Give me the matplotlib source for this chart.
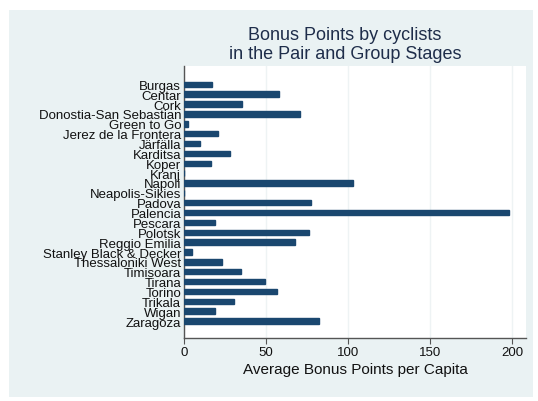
import matplotlib.pyplot as plt
from matplotlib.patches import Rectangle

cities = ['Burgas', 'Centar', 'Cork', 'Donostia-San Sebastian', 'Green to Go',
          'Jerez de la Frontera', 'Järfälla', 'Karditsa', 'Koper', 'Kranj',
          'Napoli', 'Neapolis-Sikies', 'Padova', 'Palencia', 'Pescara',
          'Polotsk', 'Reggio Emilia', 'Stanley Black & Decker',
          'Thessaloniki West', 'Timisoara', 'Tirana', 'Torino', 'Trikala',
          'Wigan', 'Zaragoza']
points = [17.2, 57.6, 35.5, 70.4, 2.2, 20.9, 9.7, 28.0, 16.6, 0.0,
          102.7, 0.0, 77.3, 197.8, 18.9, 75.9, 67.4, 5.1, 23.1, 34.9,
          49.5, 56.4, 30.2, 18.9, 82.4]
xticks = [0, 50, 100, 150, 200]

W, H = 538, 402
plt.rcParams['font.family'] = ['Liberation Sans', 'DejaVu Sans']
fig = plt.figure(figsize=(W / 100, H / 100), dpi=100)
fig.patch.set_facecolor('white')
# light stata-style panel behind everything
panel = Rectangle((9 / W, 1 - 398 / H), (533 - 9) / W, (398 - 11) / H,
                  transform=fig.transFigure, facecolor='#eaf2f3',
                  edgecolor='none', zorder=-5)
fig.add_artist(panel)

ax = fig.add_axes([184 / W, 1 - 339 / H, (526 - 184) / W, (339 - 67) / H])
ax.set_zorder(2)
ax.set_facecolor('white')
pos = list(range(len(cities)))
ax.barh(pos, points, height=0.55, color='#1a476f', edgecolor='#1a476f', zorder=3)
ax.set_ylim(len(cities) - 1 + 1.72, -1.86)
ax.set_xlim(0, 208.4)
ax.set_xticks(xticks)
ax.set_xticklabels([str(t) for t in xticks], fontsize=9.5, color='#111111')
ax.set_yticks(pos)
ax.set_yticklabels(cities, fontsize=9.5, color='#111111')
ax.tick_params(axis='y', length=0, pad=2)
ax.tick_params(axis='x', length=4, color='#555555', pad=2)
ax.xaxis.grid(True, color='#eef3f4', linewidth=1, zorder=0)
for s in ['top', 'right']:
    ax.spines[s].set_visible(False)
for s in ['left', 'bottom']:
    ax.spines[s].set_color('#555555')
    ax.spines[s].set_linewidth(1)
ax.set_xlabel('Average Bonus Points per Capita', fontsize=11, color='#111111', labelpad=3)

fig.text(345 / W, 1 - 45 / H, 'Bonus Points by cyclists\nin the Pair and Group Stages',
         ha='center', va='center', fontsize=13, color='#1e2d4a', linespacing=1.2)

plt.savefig('out.png', dpi=100)
